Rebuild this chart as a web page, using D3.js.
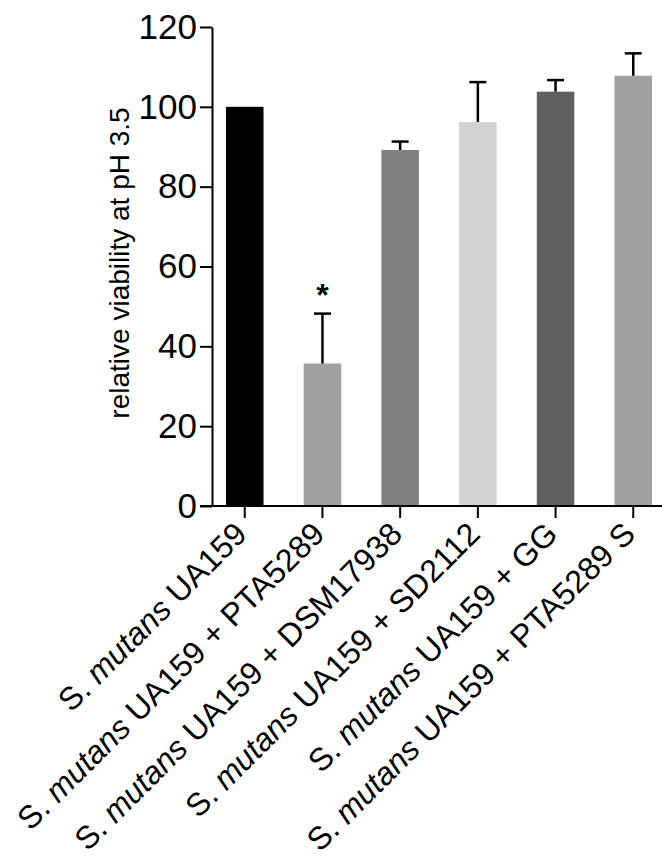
<!DOCTYPE html>
<html>
<head>
<meta charset="utf-8">
<script src="https://cdn.jsdelivr.net/npm/d3@7"></script>
<style>
  body { margin: 0; background: #fff; }
  svg { display: block; font-family: "Liberation Sans", Arial, sans-serif; }
  .axis path, .axis line { stroke: #000; stroke-width: 2; }
  .axis text { fill: #000; }
</style>
</head>
<body>
<div id="chart"></div>
<script>
// data
var strains = ['UA159', 'UA159 + PTA5289', 'UA159 + DSM17938', 'UA159 + SD2112', 'UA159 + GG', 'UA159 + PTA5289 S'];
var viability = [100, 35.7, 89.2, 96.2, 103.8, 107.8];
var errUp = [0, 12.5, 2.1, 10.0, 2.9, 5.6];
var barColors = ['#000000', '#a19fa2', '#7f7f7f', '#d3d3d3', '#606060', '#a19fa2'];
var significant = [false, true, false, false, false, false];
var yTicks = [0, 20, 40, 60, 80, 100, 120];

var width = 662, height = 868;

var svg = d3.select('#chart')
    .append('svg')
    .attr('width', width)
    .attr('height', height);

var x = d3.scaleBand()
    .domain(strains)
    .range([212, 666])
    .paddingInner(0.517)
    .paddingOuter(0.18);

var y = d3.scaleLinear()
    .domain([0, 120])
    .range([506, 27]);

// bars
svg.append('g')
    .selectAll('rect')
    .data(strains)
    .enter().append('rect')
    .attr('x', d => x(d))
    .attr('y', (d, i) => y(viability[i]))
    .attr('width', x.bandwidth())
    .attr('height', (d, i) => y(0) - y(viability[i]))
    .style('fill', (d, i) => barColors[i]);

// error bars (upper only)
var errs = svg.append('g')
    .selectAll('g')
    .data(strains.filter((d, i) => errUp[i] > 0))
    .enter().append('g');

errs.append('line')
    .attr('x1', d => x(d) + x.bandwidth() / 2)
    .attr('x2', d => x(d) + x.bandwidth() / 2)
    .attr('y1', d => y(viability[strains.indexOf(d)]))
    .attr('y2', d => { var i = strains.indexOf(d); return y(viability[i] + errUp[i]); })
    .style('stroke', '#000')
    .style('stroke-width', 2.5);

errs.append('line')
    .attr('x1', d => x(d) + x.bandwidth() / 2 - 8.5)
    .attr('x2', d => x(d) + x.bandwidth() / 2 + 8.5)
    .attr('y1', d => { var i = strains.indexOf(d); return y(viability[i] + errUp[i]); })
    .attr('y2', d => { var i = strains.indexOf(d); return y(viability[i] + errUp[i]); })
    .style('stroke', '#000')
    .style('stroke-width', 2.5);

// significance star
svg.append('g')
    .selectAll('text')
    .data(strains.filter((d, i) => significant[i]))
    .enter().append('text')
    .attr('x', d => x(d) + x.bandwidth() / 2)
    .attr('y', d => { var i = strains.indexOf(d); return y(viability[i] + errUp[i]) - 8; })
    .attr('text-anchor', 'middle')
    .style('font-size', '32px')
    .style('font-weight', 'bold')
    .text('*');

// y axis
var yAxis = svg.append('g')
    .attr('class', 'axis')
    .attr('transform', 'translate(212,0)')
    .call(d3.axisLeft(y).tickValues(yTicks).tickSize(12).tickPadding(3).tickSizeOuter(0));
yAxis.selectAll('text').style('font-size', '35px');

// x axis
var xAxis = svg.append('g')
    .attr('class', 'axis')
    .attr('transform', 'translate(0,506)')
    .call(d3.axisBottom(x).tickSize(12).tickSizeOuter(0).tickFormat(''));
xAxis.select('.domain').attr('d', 'M200,0H662');

xAxis.selectAll('.tick').each(function (d) {
    var t = d3.select(this).append('text')
        .attr('transform', 'translate(-4,22) rotate(-45)')
        .attr('text-anchor', 'end')
        .attr('dy', '0.35em')
        .style('font-size', '32px');
    t.append('tspan').text('S. ');
    t.append('tspan').style('font-style', 'italic').text('mutans');
    t.append('tspan').text(' ' + d);
});

// y title
svg.append('text')
    .attr('transform', 'translate(129,263) rotate(-90)')
    .attr('text-anchor', 'middle')
    .style('font-size', '28px')
    .text('relative viability at pH 3.5');
</script>
</body>
</html>
